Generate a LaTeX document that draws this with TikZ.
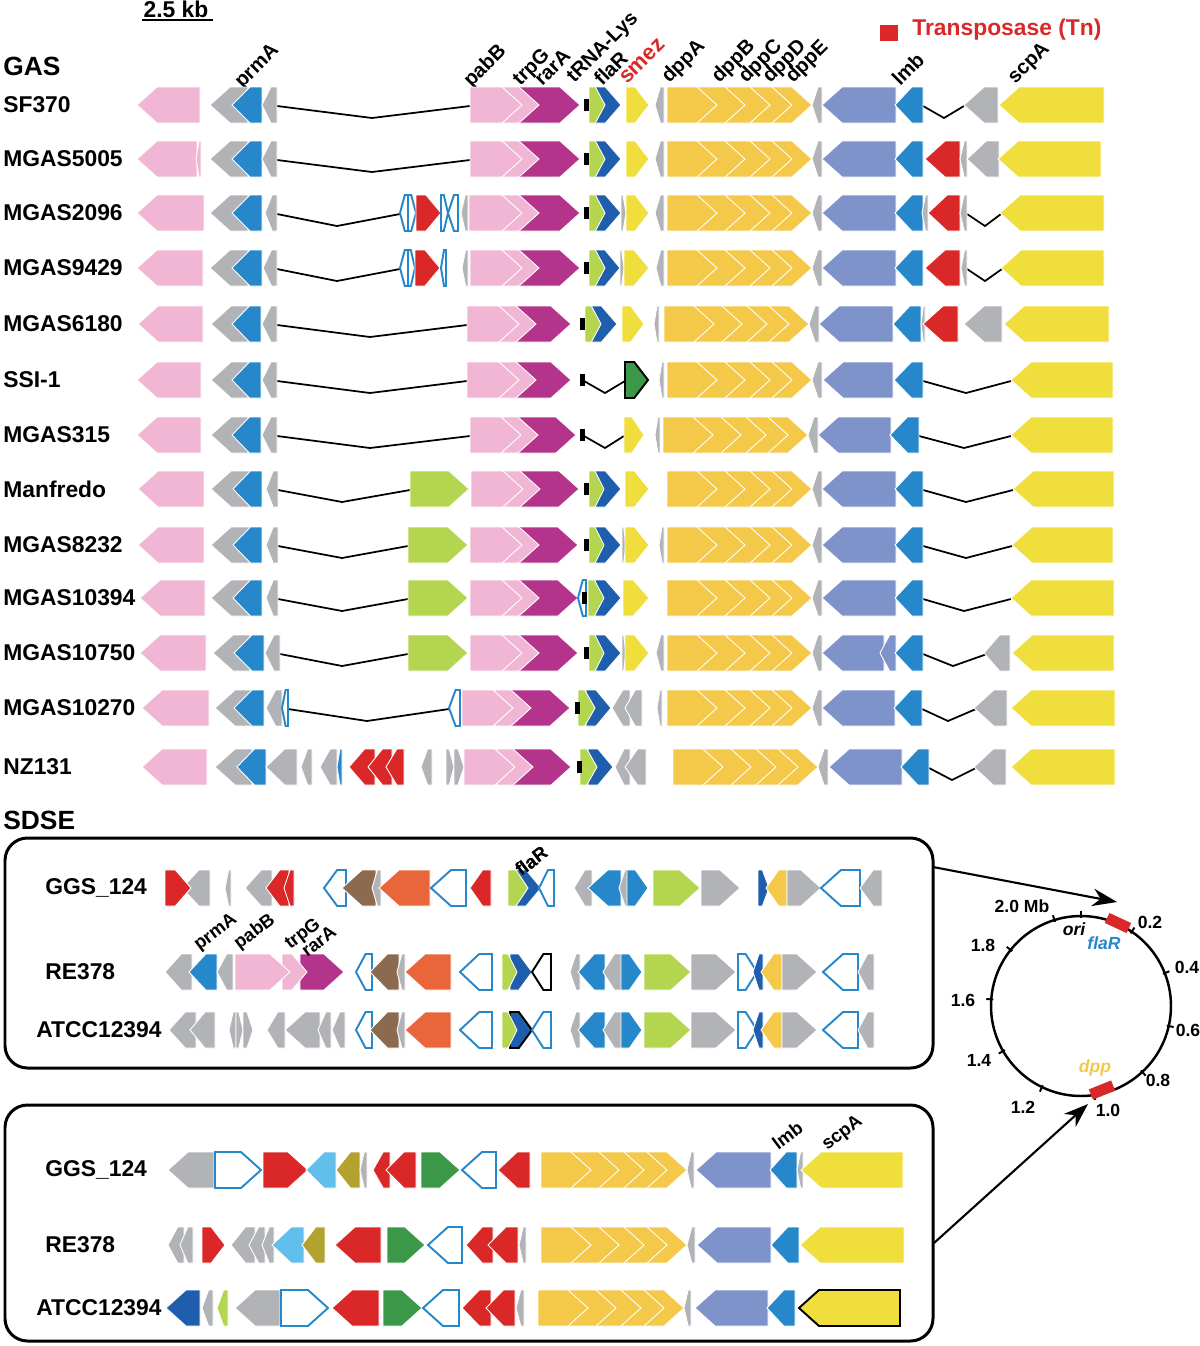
\documentclass[tikz,border=0pt]{standalone}
\usepackage{fontspec}
\setmainfont{Liberation Sans}
\usetikzlibrary{arrows.meta}
\definecolor{genepink}{RGB}{240,182,212}
\definecolor{genegray}{RGB}{177,179,183}
\definecolor{geneblue}{RGB}{38,136,203}
\definecolor{genedblue}{RGB}{30,94,172}
\definecolor{genemag}{RGB}{180,52,140}
\definecolor{genelime}{RGB}{180,213,80}
\definecolor{geneyel}{RGB}{240,222,60}
\definecolor{genedpp}{RGB}{244,200,72}
\definecolor{genelav}{RGB}{127,147,203}
\definecolor{genered}{RGB}{218,40,40}
\definecolor{genegreen}{RGB}{58,152,72}
\definecolor{geneorange}{RGB}{232,102,58}
\definecolor{genebrown}{RGB}{140,106,80}
\definecolor{genecyan}{RGB}{98,190,234}
\definecolor{geneolive}{RGB}{180,162,46}

% one row of genes: [shift]{y centre}{x1/x2/dir/style,...}
\newcommand\generow[3][0]{%
  \foreach \xa/\xb/\dd/\st in {#3}{%
    \pgfmathsetmacro\hd{min(20,0.6*(\xb-\xa))}%
    \if r\dd
      \path[gene,\st] (\xa+#1,#2-18) -- (\xb+#1-\hd,#2-18) -- (\xb+#1,#2)
        -- (\xb+#1-\hd,#2+18) -- (\xa+#1,#2+18) -- cycle;
    \else
      \path[gene,\st] (\xb+#1,#2-18) -- (\xa+#1+\hd,#2-18) -- (\xa+#1,#2)
        -- (\xa+#1+\hd,#2+18) -- (\xb+#1,#2+18) -- cycle;
    \fi
  }}
\newcommand\gapline[4]{\draw[gapl] (#2,#1+1) -- (#3,#1+13) -- (#4,#1+1);}
\newcommand\trna[2]{\fill[black] (#2,#1-6) rectangle ++(4.5,12);}
\newcommand\dppblock[2][0]{\generow[#1]{#2}{772/812/r/og, 750/792/r/og,
  725/770/r/og, 697/745/r/og, 667/717/r/og, 812/822/l/gy}}
\newcommand\sdseyel[2][0]{\generow[#1]{#2}{647/687/r/og, 624/667/r/og,
  599/644/r/og, 571/619/r/og, 541/591/r/og}}

\begin{document}
\begin{tikzpicture}[x=0.02cm,y=-0.02cm,
    gene/.style={draw=white,line width=0.5pt},
    pk/.style={fill=genepink}, gy/.style={fill=genegray},
    bu/.style={fill=geneblue}, db/.style={fill=genedblue},
    mg/.style={fill=genemag}, lm/.style={fill=genelime},
    yl/.style={fill=geneyel}, og/.style={fill=genedpp},
    lv/.style={fill=genelav}, rd/.style={fill=genered},
    gn/.style={fill=genegreen}, org/.style={fill=geneorange},
    br/.style={fill=genebrown}, cy/.style={fill=genecyan},
    ol/.style={fill=geneolive},
    ob/.style={fill=white,draw=geneblue,line width=1.1pt},
    ok/.style={fill=white,draw=black,line width=1.1pt},
    gnk/.style={fill=genegreen,draw=black,line width=1.1pt},
    dbk/.style={fill=genedblue,draw=black,line width=1.1pt},
    ylk/.style={fill=geneyel,draw=black,line width=1.1pt},
    gapl/.style={line width=1pt},
    rowlab/.style={anchor=west,inner sep=0pt,font=\bfseries\fontsize{13}{15}\selectfont},
    grplab/.style={anchor=west,inner sep=0pt,font=\bfseries\fontsize{15}{17}\selectfont},
    glab/.style={anchor=base west,rotate=45,inner sep=0pt,font=\bfseries\fontsize{11.5}{12}\selectfont},
    sglab/.style={anchor=base west,rotate=37,inner sep=0pt,font=\bfseries\fontsize{10.5}{12}\selectfont},
    maplab/.style={inner sep=0pt,font=\bfseries\fontsize{10}{12}\selectfont},
    sbox/.style={line width=1.7pt,rounded corners=0.45cm},
    maparrow/.style={line width=1.2pt,-{Stealth[length=14pt,width=10pt]}}]
\useasboundingbox (0,0) rectangle (1200,1346);

% scale bar and legend
\node[inner sep=0pt,font=\bfseries\fontsize{13}{15}\selectfont] (scalebar) at (176,9) {2.5 kb};
\draw[line width=1.2pt] (142,20) -- (213,20);
\fill[genered] (880,25) rectangle (898,41);
\node[anchor=west,inner sep=0pt,text=genered,font=\bfseries\fontsize{13}{15}\selectfont]
  (tnlegend) at (912,30) {Transposase (Tn)};

\node[grplab] (gas) at (3,66) {GAS};
\node[grplab] (sdse) at (3,820) {SDSE};
\foreach \nm/\yy in {SF370/105, MGAS5005/159, MGAS2096/213, MGAS9429/268,
    MGAS6180/324, SSI-1/380, MGAS315/435, Manfredo/489, MGAS8232/545,
    MGAS10394/598, MGAS10750/653, MGAS10270/708, NZ131/767}
  \node[rowlab] (lab\nm) at (3,\yy) {\nm};

% gene names (GAS)
\foreach \gx/\gy/\gt in {242/89/prmA, 471/88/pabB, 520/87/trpG, 542/87/rarA,
    574/84/tRNA-Lys, 602/87/flaR, 669/84/dppA, 719/84/dppB, 746/84/dppC,
    770/84/dppD, 793/84/dppE, 900/87/lmb, 1015/85/scpA}
  \node[glab] (g\gt) at (\gx,\gy) {\gt};
\node[glab,text=genered,font=\bfseries\fontsize{12.5}{13}\selectfont] (gsmez) at (627,85) {smez};

% SF370
\gapline{105}{277}{372}{470} \gapline{105}{923}{944}{964}
\generow{105}{137/200/l/pk, 210/248/l/gy, 232/262/l/bu, 262/277/l/gy,
  519/580/r/mg, 502/539/r/pk, 470/522/r/pk,
  595/621/r/db, 589/605/r/lm, 626/649/r/yl, 655/664/l/gy,
  822/896/l/lv, 895/923/l/bu, 964/998/l/gy, 999/1104/l/yl}
\dppblock{105} \trna{105}{584}

% MGAS5005
\gapline{159}{277}{372}{470}
\generow{159}{137/197/l/pk, 196/201/l/pk, 210/248/l/gy, 232/262/l/bu, 262/277/l/gy,
  519/580/r/mg, 502/539/r/pk, 470/522/r/pk,
  595/621/r/db, 589/605/r/lm, 626/649/r/yl, 655/664/l/gy,
  822/896/l/lv, 895/923/l/bu, 925/960/l/rd, 960/967/l/gy, 967/999/l/gy, 998/1101/l/yl}
\dppblock{159} \trna{159}{584}

% MGAS2096
\gapline{213}{277}{337}{400} \gapline{213}{967}{985}{1001}
\generow{213}{137/204/l/pk, 210/248/l/gy, 232/262/l/bu, 265/277/l/gy,
  400/408/l/ob, 408/416/r/ob, 416/441/r/rd, 441/448/r/ob, 448/458/l/ob, 461/468/l/gy,
  519/580/r/mg, 502/539/r/pk, 469/522/r/pk,
  595/621/r/db, 589/605/r/lm, 621/626/r/gy, 626/649/r/yl, 655/664/l/gy,
  822/896/l/lv, 895/923/l/bu, 922/928/l/gy, 928/960/l/rd, 960/967/l/gy, 1000/1104/l/yl}
\dppblock{213} \trna{213}{584}

% MGAS9429
\gapline{268}{277}{337}{400} \gapline{268}{967}{985}{1002}
\generow{268}{137/203/l/pk, 210/248/l/gy, 232/262/l/bu, 263/277/l/gy,
  400/408/l/ob, 408/415/r/ob, 415/440/r/rd, 441/446/l/ob, 462/468/l/gy,
  519/580/r/mg, 502/539/r/pk, 470/522/r/pk,
  595/620/r/db, 589/605/r/lm, 620/624/r/gy, 624/649/r/yl, 656/664/l/gy,
  822/896/l/lv, 895/923/l/bu, 925/960/l/rd, 961/967/l/gy, 1001/1104/l/yl}
\dppblock{268} \trna{268}{584}

% MGAS6180
\gapline{324}{277}{370}{467}
\generow{324}{138/203/l/pk, 211/248/l/gy, 232/261/l/bu, 262/277/l/gy,
  515/571/r/mg, 500/536/r/pk, 467/519/r/pk,
  591/617/r/db, 585/601/r/lm, 622/644/r/yl, 654/659/l/gy,
  819/893/l/lv, 893/921/l/bu, 921/925/l/gy, 923/958/l/rd, 964/1002/l/gy, 1004/1109/l/yl}
\dppblock[0-3]{324} \trna{324}{580}

% SSI-1
\gapline{380}{277}{370}{467} \gapline{380}{584}{605}{625} \gapline{380}{923}{966}{1011}
\generow{380}{137/201/l/pk, 211/248/l/gy, 232/261/l/bu, 262/277/l/gy,
  515/571/r/mg, 500/536/r/pk, 467/519/r/pk,
  625/648/r/gnk, 659/664/l/gy,
  823/893/l/lv, 894/923/l/bu, 1011/1113/l/yl}
\dppblock{380} \trna{380}{580}

% MGAS315
\gapline{435}{277}{370}{470} \gapline{435}{584}{605}{624} \gapline{435}{919}{964}{1011}
\generow{435}{137/201/l/pk, 211/248/l/gy, 232/261/l/bu, 262/277/l/gy,
  517/576/r/mg, 502/538/r/pk, 470/521/r/pk,
  624/644/r/yl, 655/660/l/gy,
  818/891/l/lv, 890/919/l/bu, 1011/1113/l/yl}
\dppblock[0-4]{435} \trna{435}{580}

% Manfredo
\gapline{489}{278}{342}{410} \gapline{489}{923}{966}{1013}
\generow{489}{138/204/l/pk, 211/250/l/gy, 233/262/l/bu, 266/278/l/gy,
  410/469/r/lm, 519/579/r/mg, 503/540/r/pk, 471/523/r/pk,
  595/621/r/db, 589/604/r/lm, 625/649/r/yl,
  822/896/l/lv, 895/923/l/bu, 1013/1114/l/yl}
\dppblock{489} \trna{489}{584}

% MGAS8232
\gapline{545}{278}{342}{408} \gapline{545}{923}{966}{1012}
\generow{545}{138/204/l/pk, 211/250/l/gy, 233/262/l/bu, 266/278/l/gy,
  408/468/r/lm, 519/578/r/mg, 502/539/r/pk, 470/522/r/pk,
  595/621/r/db, 589/604/r/lm, 622/626/r/gy, 625/649/r/yl, 659/664/l/gy,
  822/896/l/lv, 895/923/l/bu, 1012/1113/l/yl}
\dppblock{545} \trna{545}{584}

% MGAS10394
\gapline{598}{278}{342}{408} \gapline{598}{923}{964}{1011}
\generow{598}{140/205/l/pk, 211/250/l/gy, 233/262/l/bu, 266/278/l/gy,
  408/468/r/lm, 519/578/r/mg, 502/539/r/pk, 470/522/r/pk,
  578/586/l/ob, 595/621/r/db, 588/604/r/lm, 623/649/r/yl,
  822/896/l/lv, 895/923/l/bu, 1011/1114/l/yl}
\dppblock{598} \trna{598}{582}

% MGAS10750
\gapline{653}{280}{342}{408} \gapline{653}{923}{953}{987}
\generow{653}{140/206/l/pk, 213/250/l/gy, 234/264/l/bu, 265/280/l/gy,
  408/468/r/lm, 519/578/r/mg, 502/539/r/pk, 470/522/r/pk,
  595/621/r/db, 589/604/r/lm, 622/626/r/gy, 625/649/r/yl, 656/664/l/gy,
  822/884/l/lv, 880/896/l/lv, 895/923/l/bu, 984/1010/l/gy, 1012/1114/l/yl}
\dppblock{653} \trna{653}{584}

% MGAS10270
\gapline{708}{288}{367}{449} \gapline{708}{922}{948}{976}
\generow{708}{142/209/l/pk, 215/252/l/gy, 234/264/l/bu, 266/282/l/gy, 282/288/l/ob,
  449/460/l/ob, 511/570/r/mg, 495/531/r/pk, 462/513/r/pk,
  586/611/r/db, 578/595/r/lm, 612/630/l/gy, 625/642/l/gy, 657/662/l/gy,
  822/895/l/lv, 894/922/l/bu, 974/1007/l/gy, 1011/1115/l/yl}
\dppblock{708} \trna{708}{575}

% NZ131
\gapline{767}{929}{952}{976}
\generow{767}{142/207/l/pk, 215/252/l/gy, 237/266/l/bu, 266/297/l/gy, 301/312/l/gy,
  320/337/l/gy, 337/342/l/bu, 349/375/l/rd, 368/392/l/rd, 386/404/l/rd,
  421/432/l/gy, 446/454/r/gy, 454/464/r/gy,
  513/571/r/mg, 497/533/r/pk, 464/515/r/pk,
  588/613/r/db, 580/597/r/lm, 615/630/l/gy, 625/646/l/gy,
  829/902/l/lv, 901/929/l/bu, 974/1006/l/gy, 1011/1115/l/yl}
\dppblock[6]{767} \trna{767}{577}

% SDSE, upper box
\draw[sbox] (5,838) rectangle (933,1068);
\node[rowlab] (sGGSa) at (45,888) {GGS\_124};
\node[rowlab] (sREa) at (45,972) {RE378};
\node[rowlab] (sATCCa) at (36,1030) {ATCC12394};
\generow{888}{182/210/l/gy, 165/191/r/rd, 225/231/l/gy,
  245/272/l/gy, 266/289/l/rd, 284/294/l/rd,
  324/346/l/ob, 342/376/l/br, 372/381/l/gy, 379/430/l/org, 431/466/l/ob, 470/491/l/rd,
  516/541/r/db, 508/528/r/lm, 539/554/l/ob,
  574/592/l/gy, 588/621/l/bu, 619/629/l/gy, 627/648/r/bu, 653/700/r/lm, 701/740/r/gy,
  758/769/r/db, 766/787/l/og, 787/821/r/gy, 821/860/l/ob, 860/882/l/gy}
\generow{972}{165/192/l/gy, 189/217/l/bu, 217/233/l/gy,
  300/344/r/mg, 282/307/r/pk, 235/290/r/pk,
  356/372/l/ob, 370/399/l/br, 397/405/l/gy, 405/451/l/org, 460/492/l/ob,
  510/532/r/db, 502/517/r/lm, 532/551/l/ok}
\generow{1030}{169/196/l/gy, 190/215/l/gy, 229/236/l/gy, 236/243/r/gy, 243/253/r/gy,
  267/285/l/gy, 285/320/l/gy, 318/331/l/gy, 332/345/l/gy,
  356/372/l/ob, 370/399/l/br, 397/405/l/gy, 405/451/l/org, 460/492/l/ob,
  510/532/r/dbk, 502/517/r/lm, 532/551/l/ob}
\foreach \yy in {972,1030}
  \generow{\yy}{570/580/l/gy, 578/605/l/bu, 603/622/l/gy, 621/642/r/bu, 644/691/r/lm,
    691/736/r/gy, 738/757/r/ob, 753/763/l/db, 761/782/l/og, 782/817/r/gy,
    823/858/l/ob, 858/874/l/gy}
\node[sglab] (sflaR) at (521,877) {flaR};
\node[sglab] (sprmA) at (199,951) {prmA};
\node[sglab] (spabB) at (239,950) {pabB};
\node[sglab] (strpG) at (290,950) {trpG};
\node[sglab] (srarA) at (307,958) {rarA};

% SDSE, lower box
\draw[sbox] (5,1105) rectangle (933,1341);
\node[rowlab] (sGGSb) at (45,1170) {GGS\_124};
\node[rowlab] (sREb) at (45,1245) {RE378};
\node[rowlab] (sATCCb) at (36,1308) {ATCC12394};
\generow{1170}{168/214/l/gy, 215/261/r/ob, 263/308/r/rd, 306/336/l/cy, 336/360/l/ol,
  360/367/l/gy, 373/390/l/rd, 386/416/l/rd, 421/460/r/gn, 462/496/l/ob, 498/530/l/rd}
\sdseyel{1170}
\generow{1170}{687/694/l/gy, 696/771/l/lv, 770/797/l/bu, 797/803/l/gy, 801/903/l/yl}
\generow{1245}{168/184/l/gy, 180/193/l/gy, 202/225/r/rd, 231/255/l/gy, 249/265/l/gy,
  262/274/l/gy, 272/304/l/cy, 302/325/l/ol, 335/381/l/rd, 387/425/r/gn, 428/462/l/ob,
  466/493/l/rd, 488/518/l/rd, 519/526/l/gy}
\sdseyel{1245}
\generow{1245}{687/695/l/gy, 697/771/l/lv, 771/799/l/bu, 800/904/l/yl}
\generow{1308}{166/200/l/db, 202/213/l/gy, 217/228/l/lm, 235/280/l/gy, 281/328/r/ob,
  332/379/l/rd, 383/422/r/gn, 423/459/l/ob, 462/491/l/rd, 486/515/l/rd, 516/524/l/gy}
\sdseyel[0-3]{1308}
\generow{1308}{684/691/l/gy, 695/768/l/lv, 767/795/l/bu, 799/900/l/ylk}
\node[sglab] (slmb) at (778,1151) {lmb};
\node[sglab] (sscpA) at (827,1151) {scpA};

% chromosome map
\draw[line width=1.4pt] (1081,1006) circle (1.8cm);
\foreach \k in {0,...,10}{
  \pgfmathsetmacro\ang{\k*0.2/2.1*360}
  \draw[line width=1.1pt] ({1081+88*sin(\ang)},{1006-88*cos(\ang)})
    -- ({1081+95*sin(\ang)},{1006-95*cos(\ang)});
}
\node[fill=genered,minimum width=0.48cm,minimum height=0.22cm,inner sep=0pt,rotate=-25]
  (tnflar) at (1118,923) {};
\node[fill=genered,minimum width=0.48cm,minimum height=0.22cm,inner sep=0pt,rotate=22]
  (tndpp) at (1102,1090) {};
\foreach \lx/\ly/\lt in {1150/922/0.2, 1187/967/0.4, 1188/1030/0.6, 1158/1080/0.8,
    1108/1110/1.0, 1023/1107/1.2, 979/1060/1.4, 963/1000/1.6, 983/945/1.8}
  \node[maplab] (m\lt) at (\lx,\ly) {\lt};
\node[maplab] (m2.0) at (1022,906) {2.0 Mb};
\node[maplab,font=\bfseries\itshape\fontsize{10}{12}\selectfont] (mori) at (1074,929) {ori};
\node[maplab,text=geneblue,font=\bfseries\itshape\fontsize{10}{12}\selectfont] (mflaR) at (1104,943) {flaR};
\node[maplab,text=genedpp,font=\bfseries\itshape\fontsize{10}{12}\selectfont] (mdpp) at (1095,1068) {dpp};

\coordinate (box1end) at (933,867);
\coordinate (box2end) at (934,1243);
\coordinate (flarhit) at (1117,902);
\coordinate (dpphit) at (1088,1104);
\draw[maparrow] (box1end) -- (flarhit);
\draw[maparrow] (box2end) -- (dpphit);
\end{tikzpicture}
\end{document}
